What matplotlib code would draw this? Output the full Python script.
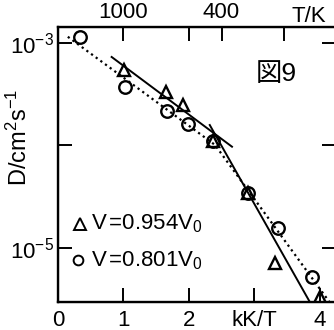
import numpy as np
import matplotlib.pyplot as plt

plt.rcParams['font.family'] = ['Liberation Sans', 'Noto Sans CJK JP', 'DejaVu Sans']
plt.rcParams['mathtext.fontset'] = 'custom'
plt.rcParams['mathtext.rm'] = 'Liberation Sans'
plt.rcParams['mathtext.it'] = 'Liberation Sans'

# V = 0.801 V0 (circles), x in kK/T, D in cm2/s
circ_x = [0.34, 1.02, 1.66, 1.98, 2.37, 2.90, 3.36, 3.88]
circ_D = [1.15e-3, 3.7e-4, 2.15e-4, 1.6e-4, 1.1e-4, 3.4e-5, 1.55e-5, 5.2e-6]

# V = 0.954 V0 (triangles)
tri_x = [1.01, 1.65, 1.91, 2.37, 2.90, 3.31, 4.00]
tri_D = [5.5e-4, 3.3e-4, 2.5e-4, 1.1e-4, 3.4e-5, 7.1e-6, 3.3e-6]

# fitted lines
solid1_x = [0.82, 2.66]
solid1_D = [7.3e-4, 9.7e-5]
solid2_x = [2.32, 3.85]
solid2_D = [1.58e-4, 2.95e-6]
dot_x = [0.15, 2.40, 4.15]
dot_D = [1.15e-3, 1.01e-4, 2.95e-6]

bottom_ticks = [0, 1, 2, 3, 4]
bottom_labels = ['0', '1', '2', 'kK/T', '4']
top_T = [1000, 500, 400, 290]
top_labels = ['1000', '', '400', '']

fig = plt.figure(figsize=(3.34, 3.30), dpi=100)
ax = fig.add_axes([58/334, 28/330, 278/334, 275/330])

ax.plot(dot_x, dot_D, color='black', lw=1.6, ls=(0, (1, 1.6)))
ax.plot(solid1_x, solid1_D, color='black', lw=1.4)
ax.plot(solid2_x, solid2_D, color='black', lw=1.4)
ax.plot(circ_x, circ_D, 'o', ms=9, mfc='none', mec='black', mew=1.7)
ax.plot(tri_x, tri_D, '^', ms=9, mfc='none', mec='black', mew=1.7)

ax.set_yscale('log')
ax.set_xlim(0, 4.25)
ax.set_ylim(10**-5.53, 10**-2.844)
ax.minorticks_off()
ax.set_xticks(bottom_ticks)
ax.set_xticklabels(bottom_labels)
ax.set_yticks([1e-3, 1e-4, 1e-5])
ax.set_yticklabels([r'$10^{-3}$', '', r'$10^{-5}$'])
ax.tick_params(direction='in', length=10, width=1.4, labelsize=16, pad=6,
               right=True)
ax.tick_params(axis='y', labelsize=16, pad=3)
for s in ax.spines.values():
    s.set_linewidth(1.7)

top = ax.twiny()
top.set_xlim(ax.get_xlim())
top.set_xticks([1000 / t for t in top_T])
top.set_xticklabels(top_labels)
top.tick_params(direction='in', length=10, width=1.4, labelsize=16, pad=3)
top.text(3.83, 1.0, 'T/K', transform=top.get_xaxis_transform(), fontsize=16,
         ha='center', va='bottom')

ax.set_ylabel(r'D/cm$^2$s$^{-1}$', fontsize=17, labelpad=0)
ax.yaxis.set_label_coords(-0.095, 0.6)

# legend: marker drawn in axes coords, text next to it
ax.plot([0.078], [0.285], '^', ms=8, mfc='none', mec='black', mew=1.4,
        transform=ax.transAxes, clip_on=False)
ax.plot([0.072], [0.152], 'o', ms=7, mfc='none', mec='black', mew=1.4,
        transform=ax.transAxes, clip_on=False)
ax.text(0.12, 0.285, r'V$\,$=0.954V$_0$', transform=ax.transAxes, fontsize=16,
        va='center')
ax.text(0.12, 0.152, r'V$\,$=0.801V$_0$', transform=ax.transAxes, fontsize=16,
        va='center')
ax.text(0.785, 0.83, '図9', transform=ax.transAxes, fontsize=19, ha='center',
        va='center')

fig.savefig('out.png', dpi=100)
